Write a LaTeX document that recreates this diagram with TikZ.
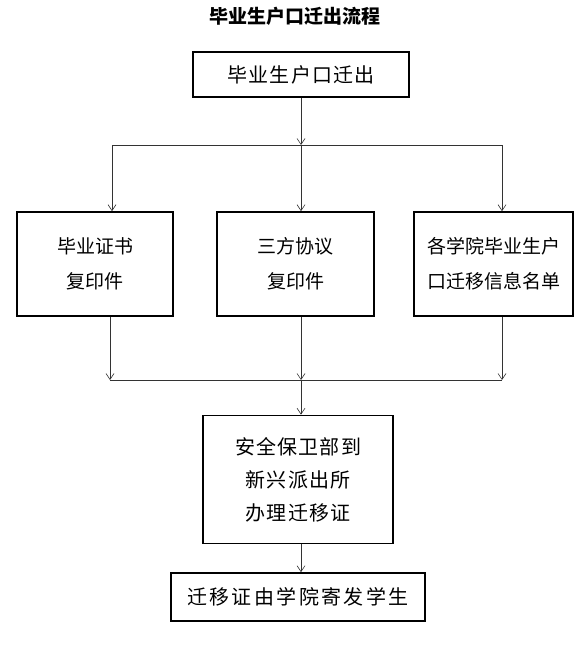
\documentclass[tikz,border=0pt]{standalone}
\usepackage{fontspec}
\setmainfont{Noto Sans CJK SC}
\newfontfamily\cjkmid[LetterSpace=6]{Noto Sans CJK SC}
\newfontfamily\cjkwide[LetterSpace=12]{Noto Sans CJK SC}
\usepackage{tikz}
\usetikzlibrary{arrows.meta,positioning,calc}
\tikzset{flowbox/.style={draw=black,line width=1.6pt,align=center,inner sep=0pt}}

\begin{document}
\begin{tikzpicture}[->, >={Straight Barb[length=6pt,width=8pt]}, x=1pt, y=-1pt, semithick]
        \tikzstyle{link}=[draw=black!80]
        \useasboundingbox (0,0) rectangle (588,653);
        % title
        \node[font=\fontsize{19}{22}\selectfont\bfseries] (T) at (295,16) {毕业生户口迁出流程};
        % boxes
        \node[flowbox,minimum width=216,minimum height=45,font=\fontsize{20}{24}\cjkmid] (A) at (301,74.5) {毕业生户口迁出};
        \node[flowbox,minimum width=156,minimum height=104,font=\fontsize{19}{35}\selectfont] (B) at (95,264) {毕业证书\\复印件};
        \node[flowbox,minimum width=157,minimum height=104,font=\fontsize{19}{35}\selectfont] (C) at (295.5,264) {三方协议\\复印件};
        \node[flowbox,minimum width=159,minimum height=104,font=\fontsize{19}{35}\selectfont] (D) at (493.5,264) {各学院毕业生户\\口迁移信息名单};
        \node[flowbox,minimum width=190,minimum height=128,font=\fontsize{20}{33}\cjkmid] (E) at (298,479.5) {安全保卫部到\\新兴派出所\\办理迁移证};
        \node[flowbox,minimum width=254,minimum height=48,font=\fontsize{20}{24}\cjkwide] (F) at (298,597) {迁移证由学院寄发学生};
        % junctions
        \coordinate (s1) at (301,145);
        \coordinate (s0) at (112,145);
        \coordinate (s2) at (502,145);
        \coordinate (m1) at (301,380);
        \coordinate (m0) at (110,380);
        \coordinate (m2) at (502,380);
        % connectors
        \draw[link] (A.south -| s1) -- (s1);
        \draw[link,-] (s0) -- (s2);
        \draw[link] (s0) -- (s0 |- B.north);
        \draw[link] (s1) -- (s1 |- C.north);
        \draw[link] (s2) -- (s2 |- D.north);
        \draw[link] (m0 |- B.south) -- (m0);
        \draw[link] (m1 |- C.south) -- (m1);
        \draw[link] (m2 |- D.south) -- (m2);
        \draw[link,-] (m0) -- (m2);
        \draw[link] (m1) -- (m1 |- E.north);
        \draw[link] (E.south -| m1) -- (m1 |- F.north);
\end{tikzpicture}
\end{document}
